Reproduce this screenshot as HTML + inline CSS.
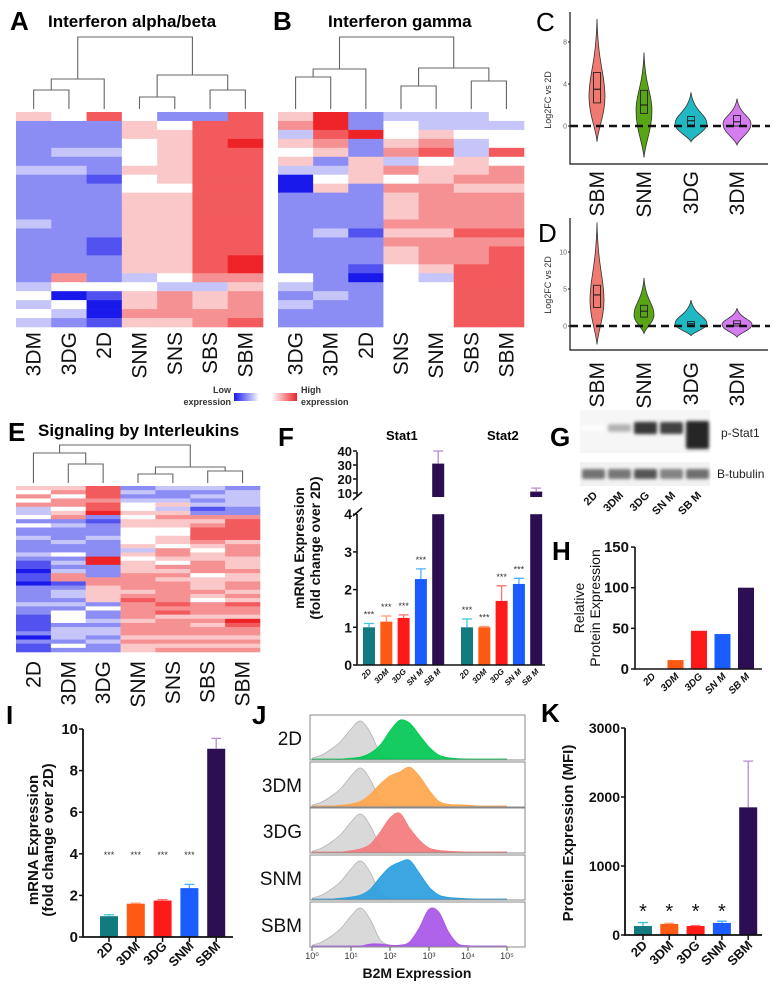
<!DOCTYPE html>
<html><head><meta charset="utf-8"><style>
html,body{margin:0;padding:0;background:#fff;}
svg{display:block;font-family:"Liberation Sans",sans-serif;}
</style></head><body>
<svg id="fig" width="773" height="988" viewBox="0 0 773 988" xmlns="http://www.w3.org/2000/svg"></svg>
<script>
// ---------- DATA ----------
const heatA_cols = ['3DM','3DG','2D','SNM','SNS','SBS','SBM'];
const heatA_vals = ["522222322222322222234343","422232322222222222640432","722232212222221122241001","455444544555555555345565","245555554555555555436665","277777777777777777635566","777877777777777788656667"];
const heatB_cols = ['3DG','3DM','2D','SNS','SNM','SBS','SBM'];
const heatB_vals = ["563545300222222222432322","887652345222232222223222","228225552222212221022222","344563646555656554444444","335674556666656665344444","334335565666676667777777","434474665666676777777777"];
const heatE_cols = ['2D','3DM','3DG','SNM','SNS','SBS','SBM'];
const heatE_vals = ["5464633424223222321101102222322111120211","5646645623222322423236612332324442333242","7776778212223222288222665555242232332322","2323445455444453545556666567666656665655","3223535655445546654656566666767566665656","3232312656777654556664555654666565665656","2333322677777566655565566565766587665656"];

const violinGroups = ['SBM','SNM','3DG','3DM'];
const violinColors = ['#f07a72','#5aa514','#20b8c2','#d57cf0'];
const vC_min=[-1.5,-3,-1.5,-1.8], vC_max=[10.2,7,3.2,2.6], vC_mode=[2.8,1.5,0.2,0.2], vC_width=[8,8,16,14];
const vC_q1=[2.2,1.2,0.1,0], vC_med=[3.5,2,0.5,0.4], vC_q3=[5.1,3.4,0.9,1.0];
const vD_min=[-2.5,-1,-1.3,-1.5], vD_max=[14,6.5,3.5,2.4], vD_mode=[3.5,1.5,0.3,0.2], vD_width=[7,10,16,15];
const vD_q1=[2.5,1.2,0,0], vD_med=[4.2,2,0.3,0.3], vD_q3=[5.5,2.8,0.6,0.7];
const ticksC=[0,4,8], ticksD=[0,5,10];

const barCats5 = ['2D','3DM','3DG','SNM','SBM'];
const blotCats = ['2D','3DM','3DG','SN M','SB M'];
const barColors = ['#137a7f','#ff5a14','#ff1a1a','#1a5cff','#2b0f52'];
const errColors = ['#3cc8d8','#ff9a70','#ff7070','#4ab0ff','#b58ad8'];
const stat1_vals=[1.0,1.15,1.25,2.28,31], stat1_err=[0.1,0.15,0.08,0.27,9];
const stat2_vals=[1.0,1.0,1.7,2.15,11], stat2_err=[0.22,0.02,0.4,0.15,2.5];
const statF_sig=['***','***','***','***',''];
const ticksF_low=[0,1,2,3,4], ticksF_high=[10,20,30,40];

const pstat_int=[0,0.35,0.92,0.88,1.0], tub_int=[0.7,0.68,0.85,0.62,0.72];
const relProt_vals=[0,11,47,43,100];
const ticksH=[0,50,100,150];

const b2m_mrna_vals=[1.0,1.6,1.75,2.35,9.05], b2m_mrna_err=[0.07,0.03,0.05,0.18,0.5];
const b2m_sig=['***','***','***','***',''];
const ticksI=[0,2,4,6,8,10];

const mfi_vals=[130,160,130,175,1850], mfi_err=[50,10,8,25,670];
const mfi_sig=['*','*','*','*',''];
const ticksK=[0,1000,2000,3000];

const flowRows=['2D','3DM','3DG','SNM','SBM'];
const flowColors=['#00c853','#ffa64d','#f47a7c','#2a9ee0','#a855e8'];
// heights sampled at log10 = 0,0.25,...,5
const flow_gray=[0.02,0.1,0.25,0.45,0.75,0.95,0.65,0.15,0.02,0,0,0,0,0,0,0,0,0,0,0,0];
const flow_2D=[0,0,0,0,0.02,0.05,0.15,0.35,0.7,0.97,0.9,0.6,0.3,0.1,0.03,0.01,0,0,0,0,0];
const flow_3DM=[0,0,0,0.02,0.05,0.12,0.3,0.55,0.75,0.85,0.97,0.75,0.4,0.12,0.04,0.03,0.02,0,0,0,0];
const flow_3DG=[0,0,0,0,0.03,0.08,0.2,0.5,0.85,0.97,0.6,0.3,0.1,0.04,0.02,0.01,0,0,0,0,0];
const flow_SNM=[0,0,0,0.02,0.05,0.1,0.25,0.55,0.8,0.92,0.97,0.65,0.3,0.1,0.04,0.02,0.01,0,0,0,0];
const flow_SBM=[0,0,0,0,0,0,0.05,0.05,0.02,0.02,0.1,0.45,0.92,0.85,0.35,0.05,0.01,0,0,0,0];
const flowSeries=[flow_2D,flow_3DM,flow_3DG,flow_SNM,flow_SBM];
const flowTicks=['10⁰','10¹','10²','10³','10⁴','10⁵'];

// ---------- HELPERS ----------
const NS='http://www.w3.org/2000/svg';
const svg=document.getElementById('fig');
function mk(tag,attrs,parent){const e=document.createElementNS(NS,tag);for(const k in attrs)e.setAttribute(k,attrs[k]);(parent||svg).appendChild(e);return e;}
function txt(s,attrs,parent){const e=mk('text',attrs,parent);e.textContent=s;return e;}
function heatColor(v){const t=(v-4)/4;let r,g,b;
 if(t<0){const a=-t;r=255+(25-255)*a;g=255+(25-255)*a;b=255+(235-255)*a;}
 else{const a=t;r=255+(238-255)*a;g=255+(35-255)*a;b=255+(40-255)*a;}
 return `rgb(${r|0},${g|0},${b|0})`;}

function drawHeat(name,x0,y0,w,h,cols,vals,labY,dendro){
 const g=mk('g',{});
 
 
 const cw=w/cols.length;
 vals.forEach((str,i)=>{const rh=h/str.length;
  for(let j=0;j<str.length;j++){
   const r=mk('rect',{x:x0+i*cw,y:y0+j*rh,width:cw+0.3,height:rh+0.3,fill:heatColor(+str[j])},g);
   
   
  }
  const cx=x0+cw*(i+0.5);
  const t=txt(cols[i],{transform:`translate(${cx+7},${labY}) rotate(-90)`,'text-anchor':'end','font-size':21,fill:'#111'});
  
  
 });
 const cx=i=>x0+cw*(i+0.5);
 dendro.forEach(d=>{const p=mk('path',{d:`M${cx(d[0])},${d[3]}V${d[2]}H${cx(d[1])}V${d[4]}`,fill:'none',stroke:'#666','stroke-width':1.1});
  
  });
}
function label(s,x,y,size,name,weight){const t=txt(s,{x:x,y:y,'font-size':size,'font-weight':weight||'bold',fill:'#000'});
 
 return t;}

// ---------- PANEL A / B / E ----------
label('A',10,30,26,'panel-a-label');
label('Interferon alpha/beta',48,27,17,'panel-a-title');
drawHeat('heatmap-a',16,112,247,215,heatA_cols,heatA_vals,332,
 [[0,1,90,109,109],[0.5,2,79,90,109],[3,4,97,109,109],[5,6,90,109,109],[3.5,5.5,75,97,90],[1.25,4.5,37,79,75]]);
label('B',273,30,26,'panel-b-label');
label('Interferon gamma',328,27,17,'panel-b-title');
drawHeat('heatmap-b',278,112,246,215,heatB_cols,heatB_vals,332,
 [[0,1,77,109,109],[0.5,2,69,77,109],[3,4,86,109,109],[5,6,81,109,109],[3.5,5.5,68,86,81],[1.25,4.5,37,69,68]]);
label('E',8,441,26,'panel-e-label');
label('Signaling by Interleukins',38,436,17,'panel-e-title');
drawHeat('heatmap-e',16,486,244,166,heatE_cols,heatE_vals,661,
 [[1,2,464,483,483],[0,1.5,453,483,464],[3,4,474,483,483],[5,6,471,483,483],[3.5,5.5,467,474,471],[0.75,4.5,445,453,467]]);

// legend
const defs=mk('defs',{});
const lg=mk('linearGradient',{id:'lgHeat',x1:0,x2:1,y1:0,y2:0},defs);
[[0,'rgb(25,25,235)'],[0.4,'#fff'],[0.6,'#fff'],[1,'rgb(238,35,40)']].forEach(s=>mk('stop',{offset:s[0],'stop-color':s[1]},lg));
const leg=mk('rect',{x:234,y:393,width:63,height:8,fill:'url(#lgHeat)'});


[['Low',231,393,'end'],['expression',231,405,'end'],['High',301,393,'start'],['expression',301,405,'start']].forEach(a=>{
 const t=txt(a[0],{x:a[1],y:a[2],'text-anchor':a[3],'font-size':9,'font-weight':'bold',fill:'#333'});
 
 });

// ---------- PANEL C / D violins ----------
function drawViolin(name,yTop,yBot,y0,scale,ticks,mins,maxs,modes,widths,q1,med,q3,labY){
 const g=mk('g',{});
 
 
 const y=v=>y0-v*scale;
 const cxs=[597,644,691,737];
 violinGroups.forEach((grp,i)=>{
  const cx=cxs[i],yt=y(maxs[i]),ym=y(modes[i]),yb=y(mins[i]),hw=widths[i];
  const d=`M${cx},${yt}C${cx+hw*0.15},${yt+(ym-yt)*0.6} ${cx+hw},${ym-(ym-yt)*0.3} ${cx+hw},${ym}C${cx+hw},${ym+(yb-ym)*0.4} ${cx+hw*0.15},${yb-(yb-ym)*0.3} ${cx},${yb}`+
          `C${cx-hw*0.15},${yb-(yb-ym)*0.3} ${cx-hw},${ym+(yb-ym)*0.4} ${cx-hw},${ym}C${cx-hw},${ym-(ym-yt)*0.3} ${cx-hw*0.15},${yt+(ym-yt)*0.6} ${cx},${yt}Z`;
  const p=mk('path',{d:d,fill:violinColors[i],stroke:'#333','stroke-width':0.8},g);
  
  
  const bx=mk('rect',{x:cx-3.5,y:y(q3[i]),width:7,height:y(q1[i])-y(q3[i]),fill:'none',stroke:'#222','stroke-width':0.9},g);
  
  
  const md=mk('line',{x1:cx-3.5,x2:cx+3.5,y1:y(med[i]),y2:y(med[i]),stroke:'#222','stroke-width':1.2},g);
  
  
  const t=txt(grp,{transform:`translate(${cx+7},${labY}) rotate(-90)`,'text-anchor':'end','font-size':21,fill:'#111'},g);
  
  
 });
 const dl=mk('line',{x1:570,x2:770,y1:y(0),y2:y(0),stroke:'#111','stroke-width':2.4,'stroke-dasharray':'8,5'},g);
 
 
 const ax=mk('path',{d:`M570,${yTop}V${yBot}H768`,fill:'none',stroke:'#111','stroke-width':1.2},g);
 
 
 ticks.forEach(v=>{const t=txt(String(v),{x:567,y:y(v)+2.5,'text-anchor':'end','font-size':7,fill:'#666'},g);
  
  
  const tl=mk('line',{x1:568,x2:570,y1:y(v),y2:y(v),stroke:'#111'},g);
  
  });
}
label('C',536,31,26,'panel-c-label','normal');
drawViolin('violin-chart-c',12,164,126,10.5,ticksC,vC_min,vC_max,vC_mode,vC_width,vC_q1,vC_med,vC_q3,171);
label('D',538,242,26,'panel-d-label','normal');
drawViolin('violin-chart-d',218,350,326,7.4,ticksD,vD_min,vD_max,vD_mode,vD_width,vD_q1,vD_med,vD_q3,362);
[[100,'c'],[285,'d']].forEach(a=>{const t=txt('Log2FC vs 2D',{transform:`translate(551,${a[0]}) rotate(-90)`,'text-anchor':'middle','font-size':9,fill:'#333'});
 
 });

// ---------- generic bar helper ----------
function errBar(g,cx,yTop,yErr,col){const p=mk('path',{d:`M${cx},${yTop}V${yErr}M${cx-5},${yErr}H${cx+5}`,stroke:col,'stroke-width':1.3,fill:'none'},g);
 
 }

// ---------- PANEL F ----------
label('F',278,446,26,'panel-f-label');
label('Stat1',386,440,13,'stat1-title');
label('Stat2',487,440,13,'stat2-title');
(function(){
 const g=mk('g',{});
 
 
 const yL=v=>665-v*37.7, yU=v=>493-(v-10)*1.4;
 const yAny=v=>v<=4?yL(v):yU(v);
 [[363,stat1_vals,stat1_err],[461,stat2_vals,stat2_err]].forEach((grp,gi)=>{
  grp[1].forEach((v,i)=>{
   const x=grp[0]+i*17.3, cx=x+6;
   if(v<=4){
    const r=mk('rect',{x:x,y:yL(v),width:12,height:665-yL(v),fill:barColors[i]},g);
    
    
   } else {
    const r=mk('rect',{x:x,y:yL(4),width:12,height:665-yL(4),fill:barColors[i]},g);
    
    
    const r2=mk('rect',{x:x,y:yU(v),width:12,height:497-yU(v),fill:barColors[i]},g);
    
    
   }
   errBar(g,cx,yAny(v),yAny(v+grp[2][i]),errColors[i]);
   if(statF_sig[i]){const s=txt(statF_sig[i],{x:cx,y:yAny(v+grp[2][i])-6,'text-anchor':'middle','font-size':9,fill:'#333'},g);
    
    }
   const l=txt(blotCats[i],{transform:`translate(${cx+3},${672}) rotate(-45)`,'text-anchor':'end','font-size':8,'font-style':'italic','font-weight':'bold',fill:'#111'},g);
   
   
  });
 });
 const ax=mk('path',{d:`M357,452V497M357,514V665H545`,fill:'none',stroke:'#111','stroke-width':1.6},g);
 
 
 const br=mk('path',{d:'M353,500L362,492M353,516L362,508',stroke:'#111','stroke-width':1.6},g);
 
 
 ticksF_low.forEach(v=>{const t=txt(String(v),{x:352,y:yL(v)+5,'text-anchor':'end','font-size':14,'font-weight':'bold',fill:'#111'},g);
  
  
  const tl=mk('line',{x1:353,x2:357,y1:yL(v),y2:yL(v),stroke:'#111','stroke-width':1.5},g);
  
  });
 ticksF_high.forEach(v=>{const t=txt(String(v),{x:352,y:yU(v)+5,'text-anchor':'end','font-size':13,'font-weight':'bold',fill:'#111'},g);
  
  
  const tl=mk('line',{x1:353,x2:357,y1:yU(v),y2:yU(v),stroke:'#111','stroke-width':1.5},g);
  
  });
 [['mRNA Expression',304],['(fold change over 2D)',320]].forEach(a=>{const t=txt(a[0],{transform:`translate(${a[1]},548) rotate(-90)`,'text-anchor':'middle','font-size':14,'font-weight':'bold',fill:'#111'},g);
  
  });
})();

// ---------- PANEL G blot ----------
label('G',550,446,26,'panel-g-label');
(function(){
 const g=mk('g',{});
 
 
 const f=mk('filter',{id:'blur',x:'-20%',y:'-50%',width:'140%',height:'200%'},defs);
 mk('feGaussianBlur',{stdDeviation:1.6},f);
 const bg1=mk('rect',{x:580,y:410,width:130,height:43,fill:'#f6f6f6'},g);
 
 
 const bg2=mk('rect',{x:580,y:462,width:130,height:24,fill:'#f2f2f2'},g);
 
 
 pstat_int.forEach((v,i)=>{const x=582+i*26;const c=Math.round(255-v*215);
  const h=i===4?28:(5+v*8);const yc=i===4?435:428;
  const b=mk('rect',{x:x,y:yc-h/2,width:23,height:h,rx:2,fill:`rgb(${c},${c},${c})`,filter:'url(#blur)'},g);
  
  
  const l=txt(blotCats[i],{transform:`translate(${x+16},${496}) rotate(-45)`,'text-anchor':'end','font-size':11,'font-weight':'bold',fill:'#111'},g);
  
  });
 tub_int.forEach((v,i)=>{const x=582+i*26;const c=Math.round(255-v*200);
  const b=mk('rect',{x:x,y:469,width:23,height:10,rx:2,fill:`rgb(${c},${c},${c})`,filter:'url(#blur)'},g);
  
  });
 const t1=txt('p-Stat1',{x:721,y:437,'font-size':12,fill:'#222'},g);
 
 
 const t2=txt('B-tubulin',{x:717,y:478,'font-size':12,fill:'#222'},g);
 
 
})();

// ---------- PANEL H ----------
label('H',552,560,26,'panel-h-label');
(function(){
 const g=mk('g',{});
 
 
 const y=v=>669-v*0.813;
 relProt_vals.forEach((v,i)=>{const x=644+i*23.5;
  const r=mk('rect',{x:x,y:y(v),width:16,height:669-y(v),fill:barColors[i]},g);
  
  
  const l=txt(blotCats[i],{transform:`translate(${x+12},${677}) rotate(-45)`,'text-anchor':'end','font-size':10,'font-style':'italic','font-weight':'bold',fill:'#111'},g);
  
  });
 const ax=mk('path',{d:'M635,547V669H762',fill:'none',stroke:'#111','stroke-width':1.6},g);
 
 
 ticksH.forEach(v=>{const t=txt(String(v),{x:629,y:y(v)+5,'text-anchor':'end','font-size':15,'font-weight':'bold',fill:'#111'},g);
  
  
  const tl=mk('line',{x1:631,x2:635,y1:y(v),y2:y(v),stroke:'#111','stroke-width':1.5},g);
  
  });
 [['Relative',584],['Protein Expression',600]].forEach(a=>{const t=txt(a[0],{transform:`translate(${a[1]},608) rotate(-90)`,'text-anchor':'middle','font-size':14,fill:'#111'},g);
  
  });
})();

// ---------- PANEL I ----------
label('I',6,724,26,'panel-i-label');
(function(){
 const g=mk('g',{});
 
 
 const y=v=>937-v*20.8;
 b2m_mrna_vals.forEach((v,i)=>{const x=100+i*26.8,cx=x+9;
  const r=mk('rect',{x:x,y:y(v),width:18,height:937-y(v),fill:barColors[i]},g);
  
  
  errBar(g,cx,y(v),y(v+b2m_mrna_err[i]),errColors[i]);
  if(b2m_sig[i]){const s=txt(b2m_sig[i],{x:cx,y:y(4)+4,'text-anchor':'middle','font-size':9,fill:'#333'},g);
   
   }
  const tk=mk('line',{x1:cx,x2:cx,y1:937,y2:942,stroke:'#111','stroke-width':1.5},g);
  
  
  const l=txt(barCats5[i],{transform:`translate(${cx+5},${947}) rotate(-45)`,'text-anchor':'end','font-size':13,'font-weight':'bold',fill:'#111'},g);
  
  });
 const ax=mk('path',{d:'M83,729V937H233',fill:'none',stroke:'#111','stroke-width':1.8},g);
 
 
 ticksI.forEach(v=>{const t=txt(String(v),{x:78,y:y(v)+5,'text-anchor':'end','font-size':15,'font-weight':'bold',fill:'#111'},g);
  
  
  const tl=mk('line',{x1:79,x2:83,y1:y(v),y2:y(v),stroke:'#111','stroke-width':1.5},g);
  
  });
 [['mRNA Expression',38],['(fold change over 2D)',53]].forEach(a=>{const t=txt(a[0],{transform:`translate(${a[1]},840) rotate(-90)`,'text-anchor':'middle','font-size':15,'font-weight':'bold',fill:'#111'},g);
  
  });
})();

// ---------- PANEL J flow histograms ----------
label('J',252,724,26,'panel-j-label');
(function(){
 const g=mk('g',{});
 
 
 const xL=lv=>312+lv*39;
 const rowTop=[715,762,808,855,902], rowH=45;
 function curve(arr,base,hmax){let pts=arr.map((h,k)=>[xL(k*0.25),base-h*hmax]);
  let d=`M${pts[0][0]},${base}L${pts[0][0]},${pts[0][1]}`;
  for(let k=0;k<pts.length-1;k++){const p0=pts[Math.max(0,k-1)],p1=pts[k],p2=pts[k+1],p3=pts[Math.min(pts.length-1,k+2)];
   d+=`C${p1[0]+(p2[0]-p0[0])/6},${p1[1]+(p2[1]-p0[1])/6} ${p2[0]-(p3[0]-p1[0])/6},${p2[1]-(p3[1]-p1[1])/6} ${p2[0]},${p2[1]}`;}
  return d+`L${pts[pts.length-1][0]},${base}Z`;}
 flowRows.forEach((r,i)=>{const top=rowTop[i],base=top+rowH-1;
  const box=mk('rect',{x:310,y:top,width:215,height:rowH,fill:'#fff',stroke:'#888','stroke-width':1},g);
  
  
  const gp=mk('path',{d:curve(flow_gray,base,40),fill:'#d9d9d9',stroke:'#b5b5b5','stroke-width':0.8},g);
  
  
  const cp=mk('path',{d:curve(flowSeries[i],base,40),fill:flowColors[i],'fill-opacity':0.92,stroke:flowColors[i],'stroke-width':0.8},g);
  
  
  const t=txt(r,{x:302,y:top+30,'text-anchor':'end','font-size':19,fill:'#111'},g);
  
  });
 flowTicks.forEach((s,k)=>{const t=txt(s,{x:xL(k),y:959,'text-anchor':'middle','font-size':9,fill:'#333'},g);
  
  
  const tl=mk('line',{x1:xL(k),x2:xL(k),y1:947,y2:951,stroke:'#555'},g);
  
  });
 const xt=txt('B2M Expression',{x:417,y:978,'text-anchor':'middle','font-size':14,'font-weight':'bold',fill:'#111'},g);
 
 
})();

// ---------- PANEL K ----------
label('K',541,722,26,'panel-k-label');
(function(){
 const g=mk('g',{});
 
 
 const y=v=>935-v*0.069;
 mfi_vals.forEach((v,i)=>{const x=634+i*26.3,cx=x+9;
  const r=mk('rect',{x:x,y:y(v),width:18,height:935-y(v),fill:barColors[i]},g);
  
  
  errBar(g,cx,y(v),y(v+mfi_err[i]),errColors[i]);
  if(mfi_sig[i]){const s=txt(mfi_sig[i],{x:cx,y:918,'text-anchor':'middle','font-size':20,fill:'#111'},g);
   
   }
  const tk=mk('line',{x1:cx,x2:cx,y1:935,y2:940,stroke:'#111','stroke-width':1.5},g);
  
  
  const l=txt(barCats5[i],{transform:`translate(${cx+5},${946}) rotate(-45)`,'text-anchor':'end','font-size':13,'font-weight':'bold',fill:'#111'},g);
  
  });
 const ax=mk('path',{d:'M625,728V935H762',fill:'none',stroke:'#111','stroke-width':1.8},g);
 
 
 ticksK.forEach(v=>{const t=txt(String(v),{x:620,y:y(v)+5,'text-anchor':'end','font-size':14,'font-weight':'bold',fill:'#111'},g);
  
  
  const tl=mk('line',{x1:621,x2:625,y1:y(v),y2:y(v),stroke:'#111','stroke-width':1.5},g);
  
  });
 const t=txt('Protein Expression (MFI)',{transform:'translate(573,833) rotate(-90)','text-anchor':'middle','font-size':15,'font-weight':'bold',fill:'#111'},g);
 
 
})();
</script>
</body></html>
